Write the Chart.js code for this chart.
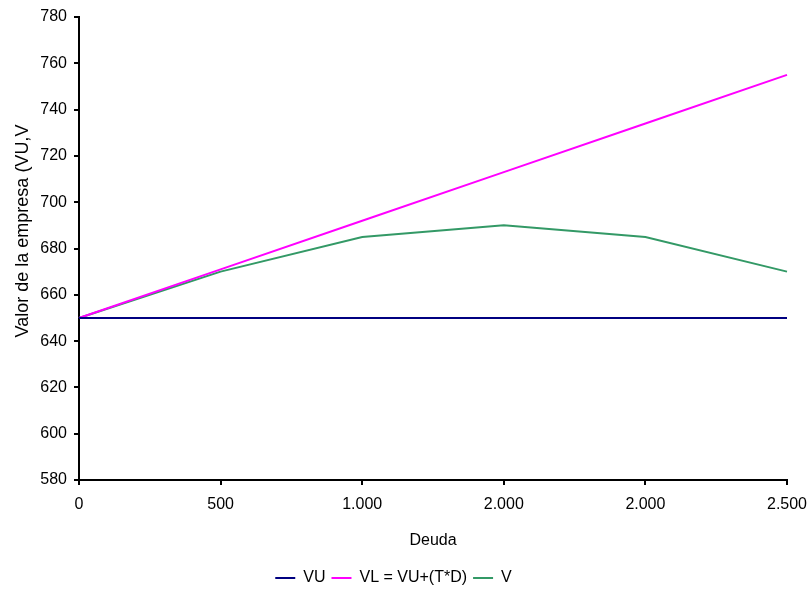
<!DOCTYPE html>
<html>
<head>
<meta charset="utf-8">
<script src="https://cdn.jsdelivr.net/npm/chart.js@4"></script>
<style>
  html, body { margin: 0; padding: 0; background: #fff; }
  #wrap { width: 809px; height: 592px; }
</style>
</head>
<body>
<div id="wrap"><canvas id="myChart" width="809" height="592"></canvas></div>
<script>
const labels = ['0', '500', '1.000', '2.000', '2.000', '2.500'];
const vu = [650, 650, 650, 650, 650, 650];
const vl = [650, 671, 692, 713, 734, 755];
const v = [650, 670, 685, 690, 685, 670];

const font = { family: "'Liberation Sans', Arial, sans-serif", size: 16 };

const data = {
  labels: labels,
  datasets: [
    { label: 'VU', data: vu, borderColor: '#000080', backgroundColor: '#000080', borderWidth: 2 },
    { label: 'VL = VU+(T*D)', data: vl, borderColor: '#FF00FF', backgroundColor: '#FF00FF', borderWidth: 2 },
    { label: 'V', data: v, borderColor: '#339966', backgroundColor: '#339966', borderWidth: 2 }
  ]
};

const config = {
  type: 'line',
  data: data,
  options: {
    responsive: false,
    animation: false,
    elements: {
      point: { radius: 0, hoverRadius: 0 },
      line: { tension: 0 }
    },
    layout: { padding: { left: 0, right: 22, top: 17, bottom: -4 } },
    plugins: {
      tooltip: { enabled: false },
      legend: {
        position: 'bottom',
        labels: {
          color: '#000',
          font: font,
          usePointStyle: true,
          pointStyle: 'line',
          pointStyleWidth: 20,
          boxWidth: 20,
          boxHeight: 16,
          padding: 6
        }
      }
    },
    scales: {
      x: {
        offset: false,
        border: { color: '#000', width: 2 },
        grid: { drawOnChartArea: false, color: '#000', tickLength: 5, lineWidth: 2 },
        ticks: { color: '#000', font: font, padding: 10, maxRotation: 0, autoSkip: false },
        title: { display: true, text: 'Deuda', color: '#000', font: font, padding: { top: 0, bottom: 14 } },
        afterFit: function (scale) {
          scale.height = 84;
          // label overhang is already covered by the layout padding
          scale.paddingLeft = 0;
          scale.paddingRight = 0;
        }
      },
      y: {
        min: 580,
        max: 780,
        border: { color: '#000', width: 2 },
        grid: { drawOnChartArea: false, color: '#000', tickLength: 5, lineWidth: 2 },
        ticks: { stepSize: 20, color: '#000', font: font, padding: 7 },
        title: {
          display: true,
          // the original title is cut off, so it sits a bit above the middle
          text: '       Valor de la empresa (VU,V',
          color: '#000',
          font: { family: font.family, size: 18 },
          padding: { top: 12, bottom: 0 }
        },
        afterFit: function (scale) { scale.width = 79; }
      }
    }
  }
};

if (document.getElementById('myChart')) {
  const myChart = new Chart(
    document.getElementById('myChart').getContext('2d'),
    config
  );
}
</script>
</body>
</html>
